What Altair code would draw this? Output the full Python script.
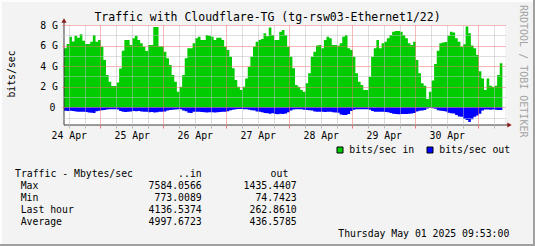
import json
import altair as alt
import pandas as pd

# ---------------- data ----------------
# hourly bins, first bin starts at 24 Apr ~10:10 (hours counted from 24 Apr 00:00)
T0 = 10.17
in_gbps = [
    5.73, 6.15, 6.86, 6.40, 6.95, 6.77, 7.10, 6.48, 6.15, 6.15, 6.38, 7.02, 6.38, 6.54,
    5.89, 4.60, 3.14, 2.49, 2.07, 2.07, 2.40, 3.78, 5.50, 6.54, 6.54, 6.05, 6.70,
    6.96, 6.54, 6.22, 5.89, 5.47, 6.05, 6.05, 7.80, 7.80, 5.90, 5.90, 5.41, 4.76, 4.11,
    3.14, 2.49, 1.52, 2.00, 3.14, 4.76, 5.73, 5.73, 6.22,
    6.70, 6.86, 6.54, 6.54, 7.03, 6.96, 6.86, 6.54, 6.77, 6.77, 6.54, 5.89, 5.57, 4.92,
    3.79, 2.65, 2.00, 1.68, 2.00, 2.81, 3.95, 4.92, 5.89, 6.38, 6.54, 6.64, 7.19, 6.90,
    7.75, 7.03, 6.54, 6.54, 7.35, 7.51, 7.03, 5.89, 4.92, 3.79, 2.16, 2.00, 1.68, 1.52,
    2.33, 3.30, 4.92, 5.41, 6.00, 6.05, 5.73, 6.54, 6.86, 6.70,
    6.05, 6.05, 5.99, 6.22, 6.86, 7.03, 5.73, 5.57, 4.92, 3.30, 2.49, 2.16, 1.68, 1.68,
    2.98, 4.92, 5.73, 6.54, 5.73, 6.22, 6.38, 6.70, 7.03, 7.35, 7.41, 7.41, 7.35, 7.03,
    6.70, 6.22, 6.05,
    6.38, 4.60, 3.30, 2.33, 2.10, 0.80, 1.52, 2.60, 4.20, 5.50, 6.22, 6.30, 6.34, 6.95,
    7.35, 7.27, 6.70, 6.38, 5.89, 6.13, 7.85, 7.20, 6.00, 5.73, 5.08, 3.50, 2.81, 1.68,
    2.81, 2.10, 2.00, 2.10, 3.13, 4.27,
]
out_gbps = [
    0.33, 0.35, 0.33, 0.36, 0.40, 0.42, 0.44, 0.42, 0.45, 0.50,
    0.52, 0.55, 0.38, 0.33, 0.28, 0.25, 0.22, 0.18, 0.20, 0.19,
    0.22, 0.35, 0.42, 0.45, 0.42, 0.40, 0.36, 0.38, 0.35, 0.40,
    0.42, 0.44, 0.48, 0.46, 0.50, 0.48, 0.44, 0.42, 0.40, 0.30,
    0.26, 0.24, 0.22, 0.20, 0.20, 0.30, 0.38, 0.52, 0.55, 0.42,
    0.42, 0.44, 0.45, 0.48, 0.50, 0.48, 0.47, 0.50, 0.48, 0.46,
    0.44, 0.42, 0.38, 0.28, 0.24, 0.18, 0.16, 0.17, 0.18, 0.20,
    0.24, 0.28, 0.32, 0.40, 0.44, 0.48, 0.55, 0.58, 0.62, 0.58,
    0.65, 0.68, 0.62, 0.66, 0.60, 0.48, 0.30, 0.22, 0.20, 0.19,
    0.20, 0.24, 0.26, 0.28, 0.30, 0.40, 0.42, 0.44, 0.42, 0.45,
    0.42, 0.44, 0.48, 0.50, 0.52, 0.70, 0.76, 0.74, 0.65, 0.35,
    0.24, 0.20, 0.18, 0.19, 0.20, 0.20, 0.24, 0.36, 0.42, 0.44,
    0.42, 0.44, 0.45, 0.48, 0.55, 0.62, 0.66, 0.68, 0.65, 0.64,
    0.66, 0.62, 0.60, 0.55, 0.40, 0.33, 0.30, 0.25, 0.12, 0.075,
    0.10, 0.15, 0.28, 0.33, 0.36, 0.40, 0.52, 0.58, 0.60, 0.74,
    0.90, 0.92, 1.13, 1.23, 1.435, 1.15, 0.92, 0.80, 0.62, 0.30,
    0.22, 0.22, 0.24, 0.22, 0.24, 0.26, 0.26,
]
day_labels = ["24 Apr", "25 Apr", "26 Apr", "27 Apr", "28 Apr", "29 Apr", "30 Apr"]
legend_names = ["bits/sec in", "bits/sec out"]
legend_colors = ["#00CC00", "#0000FF"]
stats_rows = ["Max", "Min", "Last hour", "Average"]
stats_in = [7584.0566, 773.0089, 4136.5374, 4997.6723]
stats_out = [1435.4407, 74.7423, 262.8610, 436.5785]
stats_header = "Traffic - Mbytes/sec"
col_headers = ["..in", "out"]
title_text = "Traffic with Cloudflare-TG (tg-rsw03-Ethernet1/22)"
timestamp = "Thursday May 01 2025 09:53:00"
watermark = "RRDTOOL / TOBI OETIKER"
y_label = "bits/sec"

# ---------------- chart ----------------
MONO = "DejaVu Sans Mono"
RED = "#F07070"
GRAY = "#BDBDBD"
AXIS = "#3A3A3A"
X_MIN, X_MAX = T0, T0 + 168
Y_MIN, Y_MAX = -1.72, 8.0
W, H = 441, 100
PAD = {"left": 64, "top": 25, "right": 30, "bottom": 121}

n = len(in_gbps)
df = pd.DataFrame({
    "t": [T0 + i for i in range(n)] + [T0 + n],
    "inv": in_gbps + [in_gbps[-1]],
    "outv": [-v for v in out_gbps] + [-out_gbps[-1]],
})

x_grid = list(range(12, int(X_MAX) + 1, 6))
y_grid = list(range(-1, 9))

xaxis = alt.Axis(
    values=x_grid, grid=True, domain=False, zindex=1,
    gridColor={"condition": {"test": "datum.value % 24 == 0", "value": RED}, "value": GRAY},
    tickColor={"condition": {"test": "datum.value % 24 == 0", "value": RED}, "value": GRAY},
    gridDash=[1, 1], gridWidth=1, tickSize=3, tickWidth=1,
    labelExpr=f"(datum.value % 24 == 12) ? {json.dumps(day_labels)}[floor(datum.value / 24)] : ''",
    labelFont=MONO, labelFontSize=9.8, labelColor="#000000", labelBaseline="alphabetic",
    labelPadding=10.9, labelOverlap=False, labelFlush=False, labelBound=False, title="",
)
yaxis = alt.Axis(
    values=y_grid, grid=True, domain=False, zindex=1,
    gridColor={"condition": {"test": "datum.value % 2 == 0", "value": RED}, "value": GRAY},
    tickColor={"condition": {"test": "datum.value % 2 == 0", "value": RED}, "value": GRAY},
    gridDash=[1, 1], gridWidth=1, tickSize=2, tickWidth=1,
    labelExpr="datum.value == 0 ? '0' : ((datum.value > 0 && datum.value % 2 == 0) ? datum.value + ' G' : '')",
    labelFont=MONO, labelFontSize=9.8, labelColor="#000000", labelBaseline="middle",
    labelAlign="right",
    labelPadding={"condition": {"test": "datum.value == 0", "value": 7}, "value": 4.5},
    labelOverlap=False, labelFlush=False, labelBound=False,
    title=y_label, titleFont=MONO, titleFontSize=9.8, titleFontWeight="normal",
    titleColor="#000000", titleAngle=270, titleX=-49.5, titleY=48.5,
    titleAlign="center", titleBaseline="alphabetic",
)
xs = alt.Scale(domain=[X_MIN, X_MAX], nice=False, zero=False)
ys = alt.Scale(domain=[Y_MIN, Y_MAX], nice=False, zero=False)


def X(field):
    return alt.X(field, scale=xs, axis=xaxis)


def Y(field):
    return alt.Y(field, scale=ys, axis=yaxis)


area_in = alt.Chart(df).mark_area(interpolate="step-after", color=legend_colors[0]).encode(
    x=X("t:Q"), y=Y("inv:Q"), y2=alt.datum(0),
)
area_out = alt.Chart(df).mark_area(interpolate="step-after", color=legend_colors[1]).encode(
    x=X("t:Q"), y=Y("outv:Q"), y2=alt.datum(0),
)

frame = pd.DataFrame({"t": [X_MIN], "t2": [X_MAX], "v": [Y_MIN], "v2": [Y_MAX]})
x_line = alt.Chart(frame).mark_rule(color=AXIS, strokeWidth=1, x2Offset=4).encode(
    x=X("t:Q"), x2="t2:Q", y=Y("v:Q"))
y_line = alt.Chart(frame).mark_rule(color=AXIS, strokeWidth=1, y2Offset=-4).encode(
    x=X("t:Q"), y=Y("v:Q"), y2="v2:Q")
x_arrow = alt.Chart(frame).mark_point(shape="triangle-right", size=26, filled=True, opacity=1,
                                      color="#8B1A1A", xOffset=4.5).encode(
    x=X("t2:Q"), y=Y("v:Q"))
y_arrow = alt.Chart(frame).mark_point(shape="triangle-up", size=26, filled=True, opacity=1,
                                      color="#8B1A1A", yOffset=-4.5).encode(
    x=X("t:Q"), y=Y("v2:Q"))


def text_layer(values, x, y, align="left", size=9.8, color="#000000", angle=0):
    d = pd.DataFrame({"txt": values})
    mk = dict(align=align, baseline="alphabetic", font=MONO, fontSize=size, color=color)
    if angle:
        mk["angle"] = angle
    return alt.Chart(d).mark_text(**mk).encode(
        x=alt.value(x), y=alt.value(y), text=alt.Text("txt:N"))


def row_layer(values, x, align, fmt=None):
    d = pd.DataFrame({"txt": values, "i": list(range(len(values)))})
    text = alt.Text("txt:Q", format=fmt) if fmt else alt.Text("txt:N")
    return alt.Chart(d).transform_calculate(yp="164.2 + datum.i * 12").mark_text(
        align=align, baseline="alphabetic", font=MONO, fontSize=9.8, color="#000000"
    ).encode(x=alt.value(x), y=alt.Y("yp:Q", scale=None), text=text)


title = text_layer([title_text], 203.5, -4.5, align="center", size=11.5)
header = text_layer([stats_header], -49, 152.2)
h_in = text_layer([col_headers[0]], 137.7, 152.2, align="right")
h_out = text_layer([col_headers[1]], 224.3, 152.2, align="right")
rows = row_layer(stats_rows, -43.3, "left")
vin = row_layer(stats_in, 137.7, "right", ".4f")
vout = row_layer(stats_out, 232.7, "right", ".4f")
stamp = text_layer([timestamp], 445.3, 212.2, align="right")
mark = text_layer([watermark], 455.5, -20, align="left", size=10, color="#A3A3A3", angle=90)

leg = pd.DataFrame({"name": legend_names, "color": legend_colors, "i": [0, 1]})
leg_sq = alt.Chart(leg).transform_calculate(xp="276 + datum.i * 90").mark_square(
    size=36, filled=True, opacity=1, stroke="#000000", strokeWidth=1
).encode(x=alt.X("xp:Q", scale=None), y=alt.value(125),
         fill=alt.Color("color:N", scale=None, legend=None))
leg_tx = alt.Chart(leg).transform_calculate(xp="285.3 + datum.i * 90").mark_text(
    align="left", baseline="alphabetic", font=MONO, fontSize=9.8, color="#000000"
).encode(x=alt.X("xp:Q", scale=None), y=alt.value(128), text="name:N")

# 3-D frame around the image (light top/left, dark bottom/right)
border_df = pd.DataFrame({"k": [0]})
border_t = alt.Chart(border_df).mark_rule(color="#FDFDFD", strokeWidth=2).encode(
    x=alt.value(-64), x2=alt.value(471), y=alt.value(-24))
border_l = alt.Chart(border_df).mark_rule(color="#FDFDFD", strokeWidth=2).encode(
    x=alt.value(-63), y=alt.value(-25), y2=alt.value(221))
border_r = alt.Chart(border_df).mark_rule(color="#A0A0A0", strokeWidth=2).encode(
    x=alt.value(470), y=alt.value(-25), y2=alt.value(221))
border_b = alt.Chart(border_df).mark_rule(color="#A0A0A0", strokeWidth=2).encode(
    x=alt.value(-64), x2=alt.value(471), y=alt.value(220))

chart = alt.layer(
    area_in, area_out, x_line, y_line, x_arrow, y_arrow,
    title, header, h_in, h_out, rows, vin, vout, stamp, mark, leg_sq, leg_tx,
    border_t, border_l, border_r, border_b,
).properties(
    width=W, height=H, autosize=alt.AutoSizeParams(type="none"), padding=PAD,
    background="#F3F3F3",
).configure_view(stroke=None, fill="#FFFFFF")

chart.save("out.html", embed_options={"renderer": "svg", "actions": False})
